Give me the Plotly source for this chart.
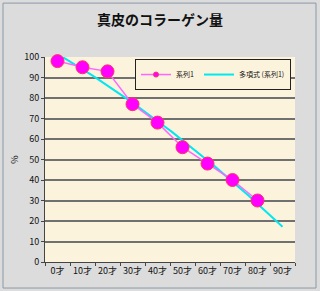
import numpy as np
import plotly.graph_objects as go

categories = ["0才", "10才", "20才", "30才", "40才", "50才", "60才", "70才", "80才", "90才"]
series1 = [98, 95, 93, 77, 68, 56, 48, 40, 30]
series_name = "系列1"
trend_name = "多項式 (系列1)"
title = "真皮のコラーゲン量"
y_title = "%"

xs = np.arange(len(series1))
coef = np.polyfit(xs, series1, 2)
tx = np.linspace(0, len(categories) - 1, 60)
ty = np.polyval(coef, tx)

font = "Noto Sans CJK JP"
pink_line = "#ff66ff"
pink_marker = "#ff00ff"
cyan = "#00e8f0"

fig = go.Figure()
fig.add_trace(go.Scatter(
    x=tx, y=ty, mode="lines", showlegend=False,
    line=dict(color=cyan, width=2)))
fig.add_trace(go.Scatter(
    x=xs, y=series1, mode="lines+markers", showlegend=False,
    line=dict(color=pink_line, width=1.5),
    marker=dict(color=pink_marker, size=13, line=dict(color="#ff3366", width=1)),
    cliponaxis=False))
# legend entries
fig.add_trace(go.Scatter(
    x=[None], y=[None], mode="lines+markers", name=series_name,
    line=dict(color=pink_line, width=1.5),
    marker=dict(color=pink_marker, size=5, line=dict(color="#ff3366", width=1))))
fig.add_trace(go.Scatter(
    x=[None], y=[None], mode="lines", name=trend_name,
    line=dict(color=cyan, width=2)))

fig.update_layout(
    width=320, height=291,
    margin=dict(l=45, r=25, t=57, b=29),
    paper_bgcolor="#dcdcdc",
    plot_bgcolor="#fcf3dc",
    font=dict(family=font, size=9, color="#111111"),
    title=dict(text="<b>" + title + "</b>", x=0.5, xanchor="center", y=0.93,
               yanchor="middle", font=dict(family=font, size=14, color="#111111")),
    showlegend=True,
    legend=dict(x=0.36, y=0.99, xanchor="left", yanchor="top", orientation="h",
                bgcolor="#fcf3dc", bordercolor="#222222", borderwidth=1,
                font=dict(family=font, size=7), itemwidth=30,
                tracegroupgap=0),
    xaxis=dict(range=[-0.5, 9.5], tickmode="array", tickvals=list(range(len(categories))),
               ticktext=categories, ticks="", showgrid=False, zeroline=False,
               showline=True, linecolor="#444444", linewidth=1,
               tickfont=dict(family=font, size=9),
               minor=dict(tickmode="array", tickvals=[i + 0.5 for i in range(-1, 10)],
                          ticks="outside", ticklen=3, tickcolor="#444444", showgrid=False)),
    yaxis=dict(range=[0, 100], dtick=10, ticks="outside", ticklen=3, tickcolor="#444444",
               showgrid=True, gridcolor="#707070", gridwidth=1.5, zeroline=False,
               showline=True, linecolor="#444444", linewidth=1,
               tickfont=dict(family=font, size=9),
               title=dict(text=y_title, standoff=4, font=dict(family=font, size=9))),
    shapes=[dict(type="rect", xref="paper", yref="paper", x0=-0.168, x1=1.084,
                 y0=-0.127, y1=1.263, line=dict(color="#8a9aa8", width=1))],
)

fig.write_html("out.html")
